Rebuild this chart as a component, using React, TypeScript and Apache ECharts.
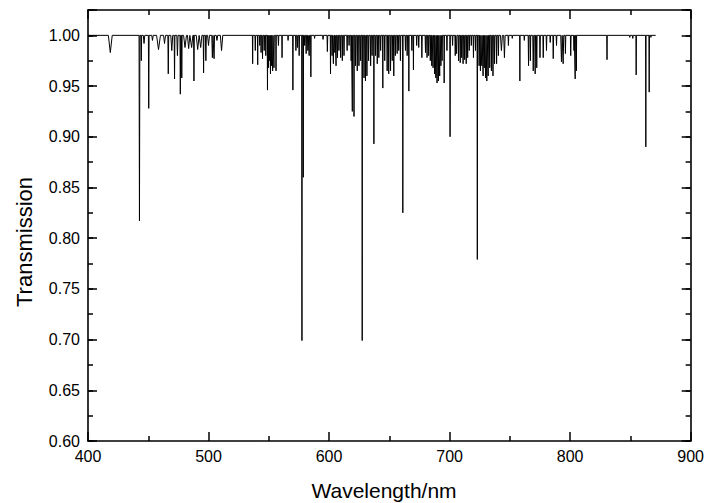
import React, { useEffect, useRef } from "react";
import * as echarts from "echarts";

// Absorption lines: centre wavelength (nm), minimum transmission, half width (nm)
const lineCenters = [
  418.5, 442.7, 444.2, 446.5, 450.4, 453.5, 458.5, 463.5, 466.6, 469.5, 471.8, 474.2, 476.6, 477.8, 480.5, 483.5, 486, 487.9, 491, 493.5, 495.9, 497.8, 500, 503.2, 504.6, 507, 510.8,
  536.6, 538.8, 540.8, 542.5, 543.6, 544.8, 546.2, 547.5, 548.9, 549.7, 550.6, 551.4, 552.3, 553.2, 554.3, 556, 558, 561, 566, 570, 572.5, 573.8, 575.2, 577.5, 578.6, 579.8, 581, 582.4, 583.5, 584.9, 588, 595,
  598.6, 601.2, 602.5, 603.6, 604.8, 605.8, 607, 608.2, 609.6, 611, 612.4, 615, 616.6, 618.3, 619.3, 620.7, 622, 623.4, 624.8, 626.2, 627.5, 629, 630.2, 631.4, 632.8, 634.5, 635.7, 637.2, 638.6, 640, 641.3, 642.8, 644.6, 646.2, 648.2, 649.5, 651, 652.4, 653.7, 655, 656.5, 657.8,
  659.2, 661.2, 663.4, 664.8, 666.2, 668.7, 670, 672.7, 674.4, 677, 680, 681.3, 682.6, 684, 685.2, 686.3, 687.5, 688.6, 689.6, 690.7, 691.8, 692.8, 693.8, 695.5, 697.8, 700.4,
  702.5, 704.7, 705.8, 707.4, 708.8, 710, 711.2, 712.5, 713.8, 715, 716.3, 718, 719.8, 721.5, 723, 724.5, 725.6, 726.7, 727.8, 728.8, 729.9, 730.9, 732, 733.3, 734.7, 736, 737.3, 739, 740.5, 743, 745.5, 748.8, 752,
  758.3, 762, 765.5, 767, 769.4, 771, 772.3, 775, 777.7, 780.4, 783.5, 786, 788.7, 792.8, 794.2, 796.1, 800.5, 803.2, 804.2, 805.2, 830.6, 849.5, 852, 854.8, 862.8, 865.6, 867,
];
const lineMinima = [
  0.983, 0.817, 0.975, 0.992, 0.928, 0.995, 0.986, 0.992, 0.962, 0.985, 0.957, 0.98, 0.942, 0.958, 0.988, 0.987, 0.988, 0.955, 0.986, 0.988, 0.963, 0.975, 0.99, 0.978, 0.977, 0.995, 0.985,
  0.972, 0.985, 0.971, 0.99, 0.983, 0.977, 0.985, 0.98, 0.946, 0.968, 0.975, 0.962, 0.97, 0.965, 0.968, 0.965, 0.99, 0.978, 0.995, 0.946, 0.985, 0.988, 0.98, 0.699, 0.86, 0.99, 0.982, 0.985, 0.98, 0.959, 0.997, 0.996,
  0.984, 0.962, 0.98, 0.972, 0.983, 0.97, 0.978, 0.985, 0.978, 0.975, 0.98, 0.985, 0.99, 0.975, 0.925, 0.92, 0.97, 0.965, 0.97, 0.975, 0.699, 0.958, 0.955, 0.96, 0.975, 0.97, 0.98, 0.893, 0.98, 0.972, 0.978, 0.985, 0.948, 0.975, 0.965, 0.962, 0.965, 0.975, 0.96, 0.98, 0.982, 0.985,
  0.975, 0.825, 0.985, 0.98, 0.945, 0.985, 0.966, 0.99, 0.988, 0.978, 0.983, 0.978, 0.98, 0.975, 0.97, 0.968, 0.962, 0.958, 0.953, 0.955, 0.96, 0.97, 0.975, 0.953, 0.985, 0.9,
  0.99, 0.98, 0.982, 0.975, 0.973, 0.978, 0.972, 0.976, 0.972, 0.978, 0.985, 0.99, 0.978, 0.985, 0.779, 0.97, 0.965, 0.97, 0.96, 0.968, 0.958, 0.955, 0.96, 0.968, 0.965, 0.96, 0.972, 0.972, 0.98, 0.985, 0.978, 0.99, 0.997,
  0.955, 0.995, 0.97, 0.975, 0.965, 0.962, 0.968, 0.978, 0.978, 0.985, 0.993, 0.977, 0.99, 0.974, 0.972, 0.982, 0.98, 0.985, 0.957, 0.965, 0.976, 0.998, 0.997, 0.961, 0.89, 0.944, 0.998,
];
const lineHalfWidths = [
  1.6, 0.35, 0.3, 0.6, 0.3, 0.6, 1.6, 0.8, 0.35, 0.8, 0.3, 0.5, 0.3, 0.3, 1.2, 1.0, 1.0, 0.3, 1.2, 1.0, 0.3, 0.4, 0.8, 0.5, 0.4, 0.6, 1.0,
  0.2, 0.3, 0.2, 0.3, 0.2, 0.3, 0.3, 0.2, 0.2, 0.3, 0.3, 0.3, 0.2, 0.3, 0.3, 0.2, 0.3, 0.2, 0.3, 0.2, 0.3, 0.3, 0.3, 0.2, 0.2, 0.3, 0.3, 0.3, 0.3, 0.2, 0.3, 0.4,
  0.3, 0.2, 0.3, 0.3, 0.3, 0.3, 0.3, 0.3, 0.3, 0.3, 0.3, 0.3, 0.3, 0.3, 0.2, 0.2, 0.3, 0.3, 0.3, 0.3, 0.2, 0.3, 0.3, 0.3, 0.3, 0.3, 0.3, 0.2, 0.3, 0.3, 0.3, 0.3, 0.2, 0.3, 0.3, 0.3, 0.3, 0.3, 0.3, 0.3, 0.3, 0.3,
  0.3, 0.2, 0.3, 0.3, 0.2, 0.3, 0.2, 0.3, 0.3, 0.3, 0.3, 0.3, 0.3, 0.3, 0.3, 0.3, 0.3, 0.3, 0.3, 0.3, 0.3, 0.3, 0.3, 0.2, 0.3, 0.2,
  0.3, 0.3, 0.3, 0.3, 0.3, 0.3, 0.3, 0.3, 0.3, 0.3, 0.3, 0.3, 0.3, 0.3, 0.2, 0.3, 0.3, 0.3, 0.3, 0.3, 0.3, 0.3, 0.3, 0.3, 0.3, 0.3, 0.3, 0.3, 0.3, 0.8, 0.6, 0.3, 0.3,
  0.2, 0.3, 0.3, 0.3, 0.4, 0.3, 0.3, 0.3, 0.3, 0.3, 0.3, 0.3, 0.3, 0.6, 0.5, 0.3, 0.3, 0.3, 0.2, 0.2, 0.2, 0.3, 0.3, 0.2, 0.2, 0.2, 0.2,
];
const spectrumStart = 400;
const spectrumEnd = 871;
const baseline = 1.0;

const xTicks = [400, 500, 600, 700, 800, 900];
const yTicks = [0.6, 0.65, 0.7, 0.75, 0.8, 0.85, 0.9, 0.95, 1.0];
const yMax = 1.025;

function buildSpectrum(): [number, number][] {
  const idx = lineCenters.map((_, i) => i).sort((a, b) => lineCenters[a] - lineCenters[b]);
  const pts: [number, number][] = [[spectrumStart, baseline]];
  idx.forEach((i) => {
    const c = lineCenters[i];
    const hw = lineHalfWidths[i];
    pts.push([c - hw, baseline]);
    pts.push([c, lineMinima[i]]);
    pts.push([c + hw, baseline]);
  });
  pts.push([spectrumEnd, baseline]);
  return pts;
}

const FONT = "'Liberation Sans', Arial, Helvetica, sans-serif";
const AX = "#000";

export default function App() {
  const ref = useRef<HTMLDivElement>(null);
  useEffect(() => {
    if (!ref.current) return;
    const chart = echarts.init(ref.current, null, { renderer: "svg" });
    const xMin = xTicks[0];
    const xMax = xTicks[xTicks.length - 1];
    const yMin = yTicks[0];
    const majorY = yTicks[1] - yTicks[0];
    const baseX = (pos: "top" | "bottom", labels: boolean) => ({
      type: "value",
      position: pos,
      min: xMin,
      max: xMax,
      interval: xTicks[1] - xTicks[0],
      axisLine: { show: true, onZero: false, lineStyle: { color: AX, width: 1.6 } },
      axisTick: { show: true, inside: true, length: 9, lineStyle: { color: AX, width: 1.5 } },
      minorTick: { show: true, splitNumber: 2, length: 5, lineStyle: { color: AX, width: 1.5 } },
      axisLabel: { show: labels, color: AX, fontSize: 16, fontFamily: FONT, margin: 7 },
      splitLine: { show: false },
      minorSplitLine: { show: false },
    });
    const baseY = (pos: "left" | "right", major: boolean, labels: boolean) => ({
      type: "value",
      position: pos,
      min: yMin,
      max: yMax,
      interval: major ? majorY : majorY / 2,
      axisLine: { show: major, onZero: false, lineStyle: { color: AX, width: 1.6 } },
      axisTick: { show: true, inside: true, length: major ? 9 : 5, lineStyle: { color: AX, width: 1.5 } },
      axisLabel: {
        show: labels,
        color: AX,
        fontSize: 16,
        fontFamily: FONT,
        margin: 8,
        formatter: (v: number) => (v > 1.001 ? "" : v.toFixed(2)),
      },
      splitLine: { show: false },
    });
    chart.setOption({
      animation: false,
      grid: { left: 88, right: 13, top: 10, bottom: 62, containLabel: false },
      xAxis: [baseX("bottom", true), baseX("top", false)],
      yAxis: [
        baseY("left", true, true),
        baseY("left", false, false),
        baseY("right", true, false),
        baseY("right", false, false),
      ],
      series: [
        {
          type: "line",
          xAxisIndex: 0,
          yAxisIndex: 0,
          data: buildSpectrum(),
          showSymbol: false,
          symbol: "none",
          lineStyle: { color: "#000", width: 1 },
          clip: true,
        },
      ],
      graphic: [
        {
          type: "text",
          x: 24,
          y: 242,
          rotation: Math.PI / 2,
          style: {
            text: "Transmission",
            fill: "#000",
            font: `22px ${FONT}`,
            align: "center",
            verticalAlign: "middle",
          },
        },
        {
          type: "text",
          x: 384,
          y: 490,
          style: {
            text: "Wavelength/nm",
            fill: "#000",
            font: `21px ${FONT}`,
            align: "center",
            verticalAlign: "middle",
          },
        },
      ],
    });
    return () => chart.dispose();
  }, []);
  return (
    <div
      ref={ref}
      style={{ position: "absolute", left: 0, top: 0, width: 707, height: 503, background: "#fff" }}
    />
  );
}
